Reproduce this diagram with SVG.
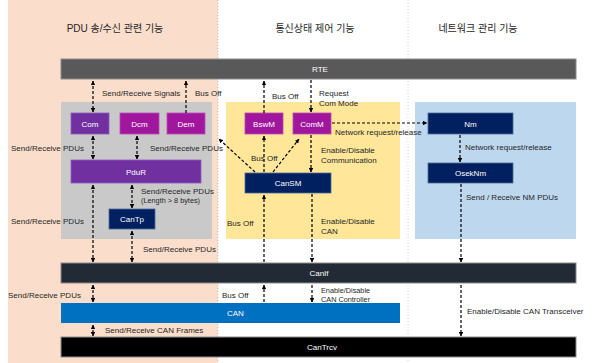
<svg xmlns="http://www.w3.org/2000/svg" width="602" height="363" viewBox="0 0 602 363">
<defs>
<style>
.hdr{font-family:"Liberation Sans","Noto Sans CJK KR",sans-serif;font-size:10px;fill:#262626;text-anchor:middle}
.lbl{font-family:"Liberation Sans","Noto Sans CJK KR",sans-serif;font-size:8px;fill:#262626}
.sm{font-size:7.3px}
.nt{font-family:"Liberation Sans",sans-serif;font-size:8px;fill:#ffffff;text-anchor:middle}
.cn{fill:none;stroke:#000;stroke-width:1.2;stroke-dasharray:3 2;marker-end:url(#ah)}
.bi{marker-start:url(#ah)}
.bar{stroke:#8c8c8c;stroke-width:1}
</style>
<marker id="ah" viewBox="0 0 6 6" refX="5.5" refY="3" markerWidth="4.5" markerHeight="4.5" markerUnits="userSpaceOnUse" orient="auto-start-reverse">
<path d="M0,0 L6,3 L0,6 z" fill="#000"/>
</marker>
</defs>
<rect width="602" height="363" fill="#ffffff"/>
<rect x="8" y="0" width="210" height="363" fill="#FBDDCB"/>
<line x1="218" y1="0" x2="218" y2="363" stroke="#bfbfbf" stroke-width="1" stroke-dasharray="1 2"/>
<line x1="408" y1="0" x2="408" y2="363" stroke="#d0d0d0" stroke-width="1" stroke-dasharray="1 2"/>
<text class="hdr" x="115" y="32">PDU 송/수신 관련 기능</text>
<text class="hdr" x="315" y="32">통신상태 제어 기능</text>
<text class="hdr" x="478" y="32">네트워크 관리 기능</text>

<g id="areas">
<rect x="61" y="102" width="151" height="137" fill="#C9C9C9"/>
<rect x="226" y="102" width="174" height="137" fill="#FFE699"/>
<rect x="415" y="102" width="161" height="137" fill="#BDD7EE"/>
</g>

<g id="rte"><rect class="bar" x="61" y="59" width="515" height="20" fill="#595959"/><text class="nt" x="320" y="72">RTE</text></g>
<g id="canif"><rect class="bar" x="61" y="263" width="515" height="20" fill="#222A35"/><text class="nt" x="319" y="276">CanIf</text></g>
<g id="can"><rect x="61" y="303" width="339" height="20" fill="#0070C0"/><text class="nt" x="227" y="316" style="text-anchor:start">CAN</text></g>
<g id="cantrcv"><rect class="bar" x="61" y="337" width="515" height="20" fill="#000000"/><text class="nt" x="322" y="350">CanTrcv</text></g>

<g id="com"><rect x="71" y="113" width="38" height="21" fill="#7030A0" stroke="#8f5cb8" stroke-width="0.8"/><text class="nt" x="90" y="126.5">Com</text></g>
<g id="dcm"><rect x="120" y="113" width="39" height="21" fill="#A0179E" stroke="#b84cb6" stroke-width="0.8"/><text class="nt" x="139.5" y="126.5">Dcm</text></g>
<g id="dem"><rect x="167" y="113" width="38" height="21" fill="#A0179E" stroke="#b84cb6" stroke-width="0.8"/><text class="nt" x="186" y="126.5">Dem</text></g>
<g id="pdur"><rect x="71" y="160" width="130" height="23" fill="#7030A0" stroke="#8f5cb8" stroke-width="0.8"/><text class="nt" x="136" y="174.5">PduR</text></g>
<g id="cantp"><rect x="109" y="209" width="46" height="20" fill="#002060" stroke="#4d6a9a" stroke-width="0.8"/><text class="nt" x="132" y="222">CanTp</text></g>
<g id="bswm"><rect x="245" y="113" width="38" height="21" fill="#A0179E" stroke="#b84cb6" stroke-width="0.8"/><text class="nt" x="264" y="126.5">BswM</text></g>
<g id="comm"><rect x="293" y="113" width="38" height="21" fill="#A0179E" stroke="#b84cb6" stroke-width="0.8"/><text class="nt" x="312" y="126.5">ComM</text></g>
<g id="cansm"><rect x="245" y="173" width="86" height="20" fill="#002060" stroke="#4d6a9a" stroke-width="0.8"/><text class="nt" x="288" y="186">CanSM</text></g>
<g id="nm"><rect x="428" y="113" width="85" height="21" fill="#002060" stroke="#4d6a9a" stroke-width="0.8"/><text class="nt" x="470.5" y="126.5">Nm</text></g>
<g id="oseknm"><rect x="428" y="163" width="85" height="20" fill="#002060" stroke="#4d6a9a" stroke-width="0.8"/><text class="nt" x="470.5" y="176">OsekNm</text></g>

<g id="connectors">
<line class="cn bi" x1="93" y1="81" x2="93" y2="112"/>
<line class="cn" x1="186" y1="113" x2="186" y2="81"/>
<line class="cn bi" x1="93" y1="136" x2="93" y2="159"/>
<line class="cn bi" x1="137" y1="136" x2="137" y2="159"/>
<line class="cn bi" x1="132" y1="185" x2="132" y2="208"/>
<line class="cn bi" x1="93" y1="185" x2="93" y2="262"/>
<line class="cn bi" x1="132" y1="231" x2="132" y2="262"/>
<line class="cn bi" x1="93" y1="285" x2="93" y2="302"/>
<line class="cn bi" x1="93" y1="325" x2="93" y2="336"/>
<line class="cn" x1="264" y1="113" x2="264" y2="81"/>
<line class="cn" x1="311" y1="80" x2="311" y2="112"/>
<line class="cn" x1="332" y1="123" x2="427" y2="123"/>
<line class="cn" x1="311" y1="135" x2="311" y2="172"/>
<line class="cn" x1="264" y1="172" x2="264" y2="136"/>
<line class="cn" x1="255" y1="172" x2="219" y2="139"/>
<line class="cn" x1="273" y1="172" x2="299" y2="139"/>
<line class="cn" x1="264" y1="262" x2="264" y2="195"/>
<line class="cn" x1="312" y1="194" x2="312" y2="262"/>
<line class="cn" x1="264" y1="302" x2="264" y2="285"/>
<line class="cn" x1="312" y1="285" x2="312" y2="302"/>
<line class="cn" x1="460" y1="135" x2="460" y2="162"/>
<line class="cn" x1="461" y1="184" x2="461" y2="262"/>
<line class="cn" x1="461" y1="285" x2="461" y2="336"/>
</g>

<g id="labels">
<text class="lbl" x="102" y="96">Send/Receive Signals</text>
<text class="lbl" x="195" y="96">Bus Off</text>
<text class="lbl" x="11" y="151">Send/Receive PDUs</text>
<text class="lbl" x="150" y="151">Send/Receive PDUs</text>
<text class="lbl" x="272" y="99">Bus Off</text>
<text class="lbl" x="319" y="96">Request</text>
<text class="lbl" x="319" y="106">Com Mode</text>
<text class="lbl" x="335" y="135">Network request/release</text>
<text class="lbl" x="251" y="161">Bus Off</text>
<text class="lbl" x="321" y="153">Enable/Disable</text>
<text class="lbl" x="321" y="163">Communication</text>
<text class="lbl" x="465" y="150">Network request/release</text>
<text class="lbl" x="466" y="200">Send / Receive NM PDUs</text>
<text class="lbl" x="141" y="194">Send/Receive PDUs</text>
<text class="lbl sm" x="141" y="203">(Length &gt; 8 bytes)</text>
<text class="lbl" x="11" y="224">Send/Receive PDUs</text>
<text class="lbl" x="143" y="252">Send/Receive PDUs</text>
<text class="lbl" x="227" y="226">Bus Off</text>
<text class="lbl" x="321" y="224">Enable/Disable</text>
<text class="lbl" x="321" y="234">CAN</text>
<text class="lbl" x="222" y="298">Bus Off</text>
<text class="lbl sm" x="321" y="293">Enable/Disable</text>
<text class="lbl sm" x="321" y="302">CAN Controller</text>
<text class="lbl" x="8" y="298">Send/Receive PDUs</text>
<text class="lbl" x="467" y="314">Enable/Disable CAN Transceiver</text>
<text class="lbl" x="105" y="333">Send/Receive CAN Frames</text>
</g>
</svg>
